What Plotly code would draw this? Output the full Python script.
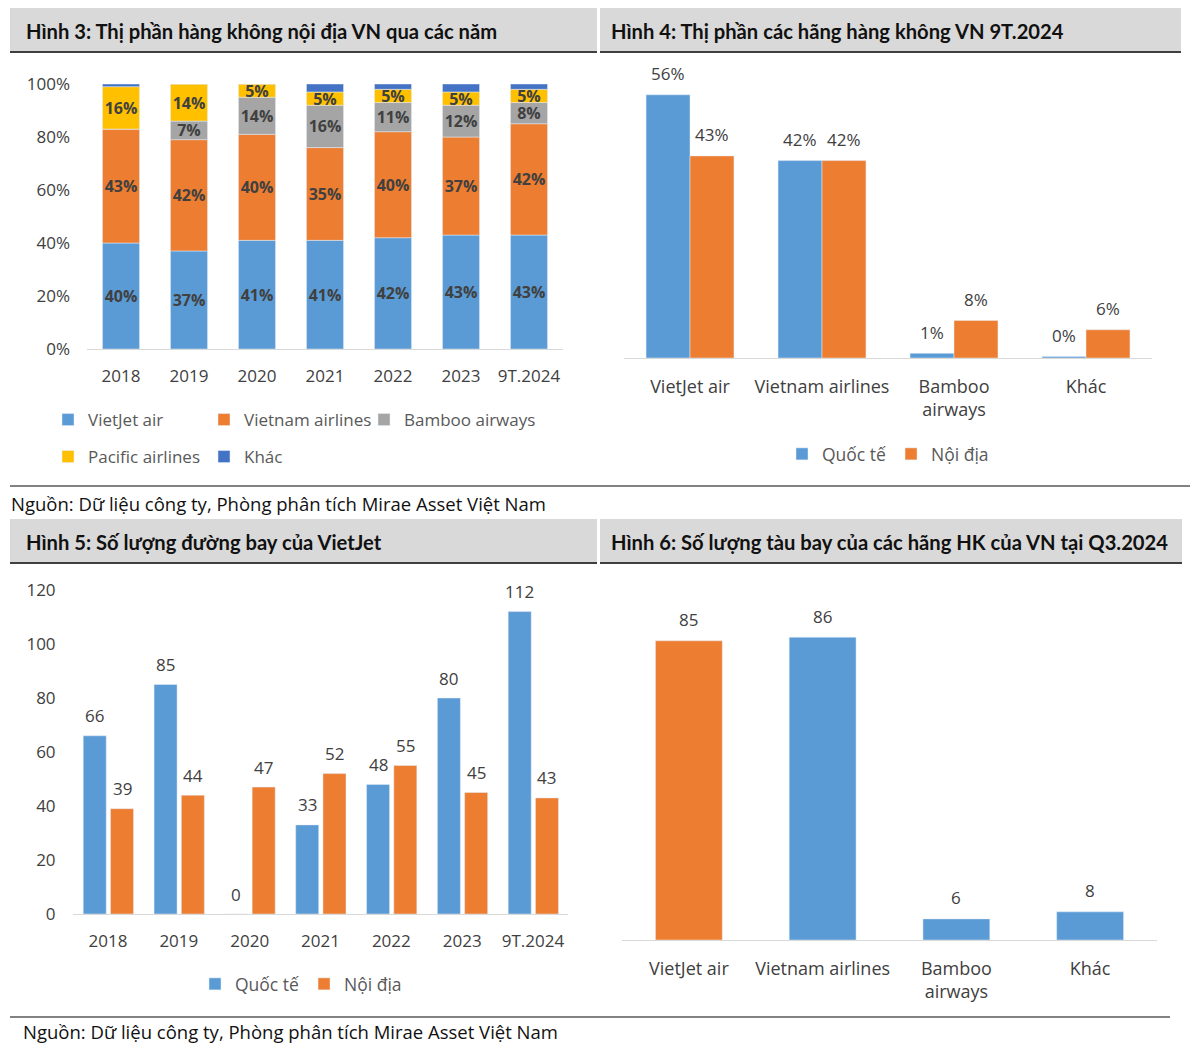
import plotly.graph_objects as go
import numpy as np

W, H = 1200, 1060

# ---------------- data ----------------
years = ["2018", "2019", "2020", "2021", "2022", "2023", "9T.2024"]
share_vietjet = [40, 37, 41, 41, 42, 43, 43]
share_vna = [43, 42, 40, 35, 40, 37, 42]
share_bamboo = [0, 7, 14, 16, 11, 12, 8]
share_pacific = [16, 14, 5, 5, 5, 5, 5]
share_other = [1, 0, 0, 3, 2, 3, 2]

airlines = ["VietJet air", "Vietnam airlines", "Bamboo<br>airways", "Khác"]
intl_share_9t = [56, 42, 1, 0.3]
dom_share_9t = [43, 42, 8, 6]

routes_intl = [66, 85, 0, 33, 48, 80, 112]
routes_dom = [39, 44, 47, 52, 55, 45, 43]

fleet_q3 = [85, 86, 6, 8]

BLUE = "#5B9BD5"
ORANGE = "#ED7D31"
GRAY = "#A5A5A5"
YELLOW = "#FFC000"
DBLUE = "#4472C4"
TXT = "#404040"
BODY = "Open Sans"
TITLEF = "Lato"


def X(px):
    return px / W


def Y(py):
    return 1 - py / H


fig = go.Figure()

# ---------------- Hình 3 : stacked ----------------
series3 = [
    ("VietJet air", share_vietjet, BLUE, "legend", True),
    ("Vietnam airlines", share_vna, ORANGE, "legend5", True),
    ("Bamboo airways", share_bamboo, GRAY, "legend6", True),
    ("Pacific airlines", share_pacific, YELLOW, "legend2", True),
    ("Khác", share_other, DBLUE, "legend7", False),
]
base = np.zeros(len(years))
for name, vals, col, leg, lab in series3:
    vals = np.array(vals, dtype=float)
    txt = [f"{v:.0f}%" if (lab and v > 0) else "" for v in vals]
    fig.add_trace(go.Bar(
        x=years, y=vals, base=base.copy(), name=name, marker_color=col,
        width=0.545, text=txt, textposition="inside", insidetextanchor="middle",
        textangle=0, constraintext="none",
        textfont=dict(family=BODY, size=16, color=TXT, weight="bold"),
        xaxis="x", yaxis="y", legend=leg, hoverinfo="skip",
    ))
    base = base + vals

# ---------------- Hình 4 : grouped shares ----------------
bw4 = 0.333
fig.add_trace(go.Bar(x=airlines, y=intl_share_9t, name="Quốc tế", marker_color=BLUE,
                     width=bw4, offset=-bw4, xaxis="x2", yaxis="y2", legend="legend3",
                     hoverinfo="skip"))
fig.add_trace(go.Bar(x=airlines, y=dom_share_9t, name="Nội địa", marker_color=ORANGE,
                     width=bw4, offset=0, xaxis="x2", yaxis="y2", legend="legend3",
                     hoverinfo="skip"))
for i, v in enumerate(intl_share_9t):
    fig.add_annotation(x=i - bw4 / 2, y=v, xref="x2", yref="y2", text=f"{v:.0f}%",
                       showarrow=False, yshift=21,
                       font=dict(family=BODY, size=17, color=TXT))
for i, v in enumerate(dom_share_9t):
    fig.add_annotation(x=i + bw4 / 2, y=v, xref="x2", yref="y2", text=f"{v:.0f}%",
                       showarrow=False, yshift=21,
                       font=dict(family=BODY, size=17, color=TXT))

# ---------------- Hình 5 : routes ----------------
bw5 = 0.325
off_b, off_o = -0.35, 0.035
fig.add_trace(go.Bar(x=years, y=routes_intl, name="Quốc tế", marker_color=BLUE,
                     width=bw5, offset=off_b, xaxis="x3", yaxis="y3", legend="legend4",
                     hoverinfo="skip"))
fig.add_trace(go.Bar(x=years, y=routes_dom, name="Nội địa", marker_color=ORANGE,
                     width=bw5, offset=off_o, xaxis="x3", yaxis="y3", legend="legend4",
                     hoverinfo="skip"))
for i, v in enumerate(routes_intl):
    fig.add_annotation(x=i + off_b + bw5 / 2, y=v, xref="x3", yref="y3", text=f"{v}",
                       showarrow=False, yshift=20,
                       font=dict(family=BODY, size=17, color=TXT))
for i, v in enumerate(routes_dom):
    fig.add_annotation(x=i + off_o + bw5 / 2, y=v, xref="x3", yref="y3", text=f"{v}",
                       showarrow=False, yshift=20,
                       font=dict(family=BODY, size=17, color=TXT))

# ---------------- Hình 6 : fleet ----------------
fleet_colors = [ORANGE, BLUE, BLUE, BLUE]
fig.add_trace(go.Bar(x=airlines, y=fleet_q3, marker_color=fleet_colors, width=0.5,
                     xaxis="x4", yaxis="y4", showlegend=False, hoverinfo="skip"))
for i, v in enumerate(fleet_q3):
    fig.add_annotation(x=i, y=v, xref="x4", yref="y4", text=f"{v}",
                       showarrow=False, yshift=21,
                       font=dict(family=BODY, size=17, color=TXT))

# ---------------- axes ----------------
tickfont = dict(family=BODY, size=17, color=TXT)
tickfont_names = dict(family=BODY, size=18, color=TXT)
xcommon = dict(type="category", showline=True, linecolor="#D9D9D9", linewidth=1,
               showgrid=False, zeroline=False, ticks="",
               ticklabelstandoff=12, fixedrange=True)

fig.update_layout(
    xaxis=dict(domain=[X(87), X(563)], anchor="y", range=[-0.5, 6.5],
               tickfont=tickfont, **xcommon),
    yaxis=dict(domain=[Y(349), Y(84)], anchor="x", range=[0, 100], dtick=20,
               ticksuffix="%", showgrid=False, zeroline=False, showline=False,
               tickfont=tickfont, ticklabelstandoff=16),
    xaxis2=dict(domain=[X(624), X(1152)], anchor="y2", range=[-0.5, 3.5],
                tickfont=tickfont_names, **xcommon),
    yaxis2=dict(domain=[Y(358), Y(76)], anchor="x2", range=[0, 60], visible=False),
    xaxis3=dict(domain=[X(72.6), X(568.4)], anchor="y3", range=[-0.5, 6.5],
                tickfont=tickfont, **xcommon),
    yaxis3=dict(domain=[Y(914), Y(590)], anchor="x3", range=[0, 120], dtick=20,
                showgrid=False, zeroline=False, showline=False,
                tickfont=tickfont, ticklabelstandoff=16),
    xaxis4=dict(domain=[X(622), X(1157)], anchor="y4", range=[-0.5, 3.5],
                tickfont=tickfont_names, **xcommon),
    yaxis4=dict(domain=[Y(940), Y(588)], anchor="x4", range=[0, 100], visible=False),
)

legfont = dict(family=BODY, size=17.5, color="#595959")
legfont3 = dict(family=BODY, size=17, color="#595959")
legcommon = dict(orientation="h", xanchor="left", yanchor="middle", font=legfont3,
                 bgcolor="rgba(0,0,0,0)", traceorder="normal")
fig.update_layout(
    barmode="overlay",
    uniformtext=dict(minsize=16, mode="show"),
    width=W, height=H, margin=dict(l=0, r=0, t=0, b=0, autoexpand=False),
    paper_bgcolor="white", plot_bgcolor="white",
    font=dict(family=BODY, color=TXT),
    legend=dict(x=X(48), y=Y(420), **legcommon),
    legend5=dict(x=X(48 + 156), y=Y(420), **legcommon),
    legend6=dict(x=X(52 + 2 * 156), y=Y(420), **legcommon),
    legend2=dict(x=X(48), y=Y(457), **legcommon),
    legend7=dict(x=X(48 + 156), y=Y(457), **legcommon),
    legend3=dict(orientation="h", x=X(888), y=Y(454), xanchor="center", yanchor="middle",
                 font=legfont, bgcolor="rgba(0,0,0,0)", traceorder="normal"),
    legend4=dict(orientation="h", x=X(301), y=Y(984), xanchor="center", yanchor="middle",
                 font=legfont, bgcolor="rgba(0,0,0,0)", traceorder="normal"),
)

# ---------------- headers, rules, titles ----------------
shapes = []
headers = [
    (10, 597, 8, 52, "Hình 3: Thị phần hàng không nội địa VN qua các năm", 23.5),
    (600, 1181, 8, 52, "Hình 4: Thị phần các hãng hàng không VN 9T.2024", 608.5),
    (10, 597, 519, 563, "Hình 5: Số lượng đường bay của VietJet", 23.5),
    (600, 1182, 519, 563, "Hình 6: Số lượng tàu bay của các hãng HK của VN tại Q3.2024", 608.5),
]
for x0, x1, y0, y1, title, tx in headers:
    shapes.append(dict(type="rect", xref="paper", yref="paper", x0=X(x0), x1=X(x1),
                       y0=Y(y1), y1=Y(y0), fillcolor="#D9D9D9", line=dict(width=0),
                       layer="below"))
    shapes.append(dict(type="line", xref="paper", yref="paper", x0=X(x0), x1=X(x1),
                       y0=Y(y1), y1=Y(y1), line=dict(color="#3F3F3F", width=2)))
    fig.add_annotation(x=X(tx), y=Y((y0 + y1) / 2 + 1), xref="paper", yref="paper",
                       xanchor="left", yanchor="middle", showarrow=False,
                       text=f"<b>{title}</b>",
                       font=dict(family=TITLEF, size=20.2, color="#111111"))

shapes.append(dict(type="line", xref="paper", yref="paper", x0=X(10), x1=X(1190),
                   y0=Y(486), y1=Y(486), line=dict(color="#595959", width=1.5)))
shapes.append(dict(type="line", xref="paper", yref="paper", x0=X(10), x1=X(1170),
                   y0=Y(1017), y1=Y(1017), line=dict(color="#595959", width=1.5)))
fig.update_layout(shapes=shapes)

src = "Nguồn: Dữ liệu công ty, Phòng phân tích Mirae Asset Việt Nam"
fig.add_annotation(x=X(9), y=Y(503), xref="paper", yref="paper", xanchor="left",
                   yanchor="middle", showarrow=False, text=src,
                   font=dict(family=BODY, size=18.5, color="#111111"))
fig.add_annotation(x=X(21), y=Y(1031), xref="paper", yref="paper", xanchor="left",
                   yanchor="middle", showarrow=False, text=src,
                   font=dict(family=BODY, size=18.5, color="#111111"))

fig.write_html("out.html")
